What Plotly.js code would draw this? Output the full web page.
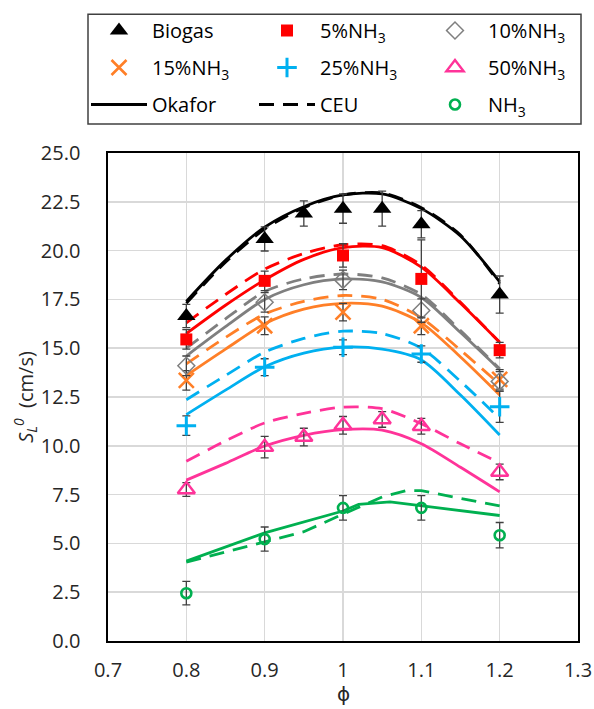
<!DOCTYPE html>
<html><head><meta charset="utf-8">
<script src="https://cdn.plot.ly/plotly-3.0.1.min.js"></script>
<style>body{margin:0;background:#fff}</style>
</head><body><div id="chart" style="width:594px;height:709px"></div>
<script>
// ---------- data ----------
const xTicks = [0.7, 0.8, 0.9, 1.0, 1.1, 1.2, 1.3];
const yTicks = [0, 2.5, 5, 7.5, 10, 12.5, 15, 17.5, 20, 22.5, 25];

// experimental points
const phiBiogas = [0.8, 0.9, 0.95, 1.0, 1.05, 1.1, 1.2];
const slBiogas  = [16.65, 20.6, 21.9, 22.15, 22.15, 21.35, 17.75];
const errBiogas = [0.6, 0.62, 0.65, 0.75, 0.9, 0.7, 0.95];

const phiExp = [0.8, 0.9, 1.0, 1.1, 1.2];
const sl5  = [15.45, 18.45, 19.75, 18.55, 14.9];
const err5 = [0.5, 0.5, 0.6, 2.0, 0.4];
const sl10  = [14.1, 17.35, 18.5, 16.93, 13.3];
const err10 = [0.5, 0.5, 0.5, 0.6, 0.5];
const sl15  = [13.35, 16.15, 16.85, 16.15, 13.4];
const err15 = [0.5, 0.45, 0.45, 0.45, 0.5];
const sl25  = [11.03, 14.03, 15.05, 14.7, 12.0];
const err25 = [0.5, 0.43, 0.38, 0.42, 0.8];

const phi50 = [0.8, 0.9, 0.95, 1.0, 1.05, 1.1, 1.2];
const sl50  = [7.76, 9.93, 10.45, 11.05, 11.35, 11.0, 8.66];
const err50 = [0.35, 0.55, 0.45, 0.45, 0.4, 0.4, 0.4];

const slNH3  = [2.45, 5.22, 6.82, 6.82, 5.42];
const errNH3 = [0.6, 0.62, 0.63, 0.63, 0.65];

// model curves
const phiModel = [0.8, 0.85, 0.9, 0.95, 1.0, 1.05, 1.1, 1.15, 1.2];
const okaBiogas = [17.4, 19.5, 21.2, 22.25, 22.85, 22.9, 22.15, 20.75, 18.4];
const ceuBiogas = [17.3, 19.4, 21.1, 22.2, 22.85, 22.95, 22.2, 20.8, 18.3];
const oka5  = [15.75, 17.2, 18.5, 19.55, 20.15, 20.15, 19.15, 17.3, 15.3];
const ceu5  = [16.3, 17.75, 19.05, 19.85, 20.3, 20.25, 19.25, 17.35, 15.3];
const oka10 = [14.6, 16.1, 17.5, 18.25, 18.55, 18.4, 17.6, 15.8, 13.9];
const ceu10 = [15.0, 16.5, 17.9, 18.55, 18.8, 18.6, 17.75, 15.9, 13.95];
const oka15 = [13.6, 14.95, 16.25, 17.0, 17.3, 17.15, 16.3, 14.55, 12.6];
const ceu15 = [14.2, 15.55, 16.75, 17.4, 17.7, 17.5, 16.55, 14.9, 13.15];
const oka25 = [11.6, 12.85, 14.05, 14.75, 15.05, 14.95, 14.4, 12.6, 10.55];
const ceu25 = [12.36, 13.6, 14.8, 15.5, 15.87, 15.75, 15.0, 13.3, 11.4];
const oka50 = [8.24, 9.1, 9.99, 10.54, 10.83, 10.8, 10.11, 8.9, 7.64];
const ceu50 = [9.21, 10.25, 11.17, 11.66, 11.98, 11.9, 11.13, 10.1, 9.12];

const phiOkaNH3 = [0.8, 0.9, 1.0, 1.02, 1.06, 1.1, 1.2];
const okaNH3    = [4.09, 5.54, 6.66, 7.0, 7.13, 6.92, 6.43];
const phiCeuNH3 = [0.8, 0.9, 0.95, 1.0, 1.05, 1.08, 1.1, 1.2];
const ceuNH3    = [4.04, 5.08, 5.6, 6.5, 7.38, 7.7, 7.7, 6.92];

// ---------- styling ----------
const FONT = '"Open Sans", "DejaVu Sans", sans-serif';
const C = {bio:'#000000', p5:'#ff0000', p10:'#7f7f7f', p15:'#ff7f27', p25:'#00b0f0', p50:'#ff3399', nh3:'#00b050'};
const ERRC = '#404040';
const LW = 2.8;
const DASH = '15px,9px';
const FS = 20;

function modelLine(x, y, color, dash, shape, extra) {
  return Object.assign({
    type:'scatter', mode:'lines', x:x, y:y,
    line:{color:color, width:LW, dash:dash, shape:shape, smoothing:0.8},
    showlegend:false, hoverinfo:'skip'
  }, extra || {});
}
function expPts(x, y, e, name, marker, legend, rank) {
  return {
    type:'scatter', mode:'markers', x:x, y:y, name:name,
    error_y:{type:'data', array:e, visible:true, color:ERRC, thickness:1.3, width:4},
    marker:marker, legend:legend, legendrank:rank, legendgroup:name
  };
}

const traces = [
  modelLine(phiModel, oka50, C.p50, 'solid', 'spline'),
  modelLine(phiModel, ceu50, C.p50, DASH, 'spline'),
  modelLine(phiOkaNH3, okaNH3, C.nh3, 'solid', 'linear'),
  modelLine(phiCeuNH3, ceuNH3, C.nh3, DASH, 'linear'),
  modelLine(phiModel, oka25, C.p25, 'solid', 'spline'),
  modelLine(phiModel, ceu25, C.p25, DASH, 'spline'),
  modelLine(phiModel, oka15, C.p15, 'solid', 'spline'),
  modelLine(phiModel, ceu15, C.p15, DASH, 'spline'),
  modelLine(phiModel, oka10, C.p10, 'solid', 'spline'),
  modelLine(phiModel, ceu10, C.p10, DASH, 'spline'),
  modelLine(phiModel, oka5, C.p5, 'solid', 'spline'),
  modelLine(phiModel, ceu5, C.p5, DASH, 'spline'),
  modelLine(phiModel, okaBiogas, C.bio, 'solid', 'spline',
            {showlegend:true, name:'Okafor', legend:'legend', legendrank:3, legendgroup:'oka'}),
  modelLine(phiModel, ceuBiogas, C.bio, DASH, 'spline',
            {showlegend:true, name:'CEU', legend:'legend2', legendrank:3, legendgroup:'ceu'}),

  expPts(phiExp, slNH3, errNH3, 'NH<sub>3</sub>',
         {symbol:'circle-open', size:10, color:C.nh3, line:{width:2.6, color:C.nh3}}, 'legend3', 3),
  expPts(phi50, sl50, err50, '50%NH<sub>3</sub>',
         {symbol:'triangle-up-open', size:15, color:C.p50, line:{width:2.4, color:C.p50}}, 'legend3', 2),
  expPts(phiExp, sl25, err25, '25%NH<sub>3</sub>',
         {symbol:'cross-thin-open', size:14, color:C.p25, line:{width:3, color:C.p25}}, 'legend2', 2),
  expPts(phiExp, sl15, err15, '15%NH<sub>3</sub>',
         {symbol:'x-thin-open', size:15, color:C.p15, line:{width:2.6, color:C.p15}}, 'legend', 2),
  expPts(phiExp, sl10, err10, '10%NH<sub>3</sub>',
         {symbol:'diamond-open', size:13, color:C.p10, line:{width:1.5, color:C.p10}}, 'legend3', 1),
  expPts(phiExp, sl5, err5, '5%NH<sub>3</sub>',
         {symbol:'square', size:12, color:C.p5, line:{width:0}}, 'legend2', 1),
  expPts(phiBiogas, slBiogas, errBiogas, 'Biogas',
         {symbol:'triangle-up', size:16, color:C.bio, line:{width:0}}, 'legend', 1)
];

function legendAt(xpx) {
  return {
    x:(xpx - 108) / 470, xanchor:'left', y:(641 - 11) / 489, yanchor:'top',
    bgcolor:'rgba(0,0,0,0)', borderwidth:0, traceorder:'grouped', tracegroupgap:8,
    itemwidth:56, font:{family:FONT, size:FS, color:'#000'}
  };
}

const layout = {
  width:594, height:709,
  margin:{l:108, r:16, t:152, b:68, pad:0},
  paper_bgcolor:'#fff', plot_bgcolor:'#fff',
  font:{family:FONT, size:FS, color:'#262626'},
  showlegend:true,
  legend:legendAt(86), legend2:legendAt(254), legend3:legendAt(422),
  xaxis:{
    range:[0.7, 1.3], tickvals:xTicks, ticktext:xTicks.map(v => String(+v.toFixed(1))),
    showgrid:true, gridcolor:'#d9d9d9', gridwidth:1.6, zeroline:false,
    showline:true, mirror:true, linecolor:'#000', linewidth:1.6,
    ticks:'', ticklabelstandoff:10, tickfont:{family:FONT, size:FS, color:'#262626'}
  },
  yaxis:{
    range:[0, 25], tickvals:yTicks, ticktext:yTicks.map(v => v.toFixed(1)),
    showgrid:true, gridcolor:'#d9d9d9', gridwidth:1.6, zeroline:false,
    showline:true, mirror:true, linecolor:'#000', linewidth:1.6,
    ticks:'', ticklabelstandoff:22, tickfont:{family:FONT, size:FS, color:'#262626'},
    title:{text:'<i>S<sub>L</sub><sup>0</sup></i>  (cm/s)', font:{family:FONT, size:FS, color:'#262626'}, standoff:2}
  },
  annotations:[{
    text:'ϕ', xref:'paper', yref:'paper', x:0.5, y:(641 - 694) / 489,
    xanchor:'center', yanchor:'middle', showarrow:false,
    font:{family:FONT, size:20, color:'#262626'}
  }],
  shapes:[{
    type:'rect', xref:'paper', yref:'paper',
    x0:(88 - 108) / 470, x1:(581 - 108) / 470, y0:(641 - 123) / 489, y1:(641 - 13) / 489,
    line:{color:'#404040', width:1.5}, fillcolor:'rgba(0,0,0,0)'
  }]
};

Plotly.newPlot('chart', traces, layout, {staticPlot:true, displayModeBar:false});
</script>
</body></html>
